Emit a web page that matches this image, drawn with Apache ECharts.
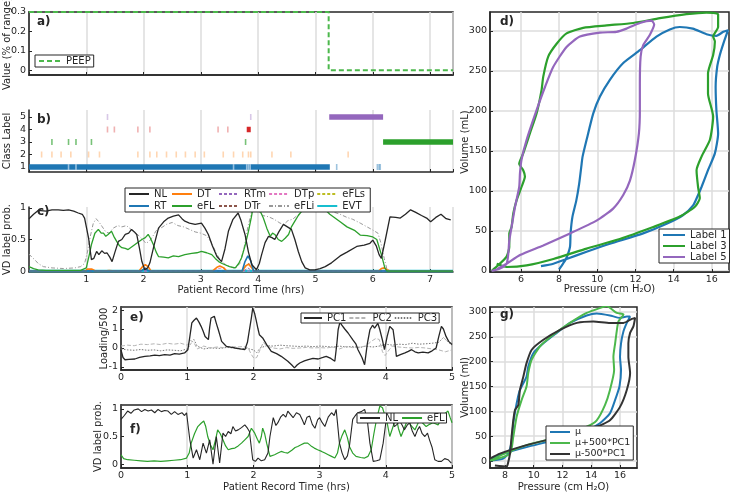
<!DOCTYPE html>
<html><head><meta charset="utf-8">
<script src="https://cdn.jsdelivr.net/npm/echarts@6/dist/echarts.min.js"></script>
<style>html,body{margin:0;padding:0;background:#fff}#c{width:730px;height:496px}</style>
</head><body><div id="c"></div>
<script>
// ---------------- DATA ----------------
// a) PEEP
const peepTime = [0, 5.23, 5.23, 7.4];
const peepValue = [0.3, 0.3, 0, 0];
const aYTicks = [0, 0.1, 0.2, 0.3];
// b) class labels
const bYTicks = [1, 2, 3, 4, 5];
const class1Bar = [0, 5.25];
const class5Bar = [5.24, 6.18];
const class3Bar = [6.18, 7.4];
const class4Block = [3.80, 3.87];
const class1Gaps = [0.69, 0.82, 3.57, 3.80, 3.83, 3.86];
const class1Ticks = [5.37, 6.08, 6.11, 6.13];
const class2Ticks = [0.22, 0.40, 0.56, 0.73, 1.04, 1.23, 1.90, 2.11, 2.23, 2.40, 2.57, 2.73, 2.90, 3.06, 3.39, 3.57, 3.73, 3.83, 3.87, 4.24, 4.57, 5.57];
const class3Ticks = [0.40, 0.69, 0.82, 1.09, 3.78];
const class4Ticks = [1.37, 1.49, 1.90, 2.11, 3.30, 3.47];
const class5Ticks = [1.37, 3.87];
// c) VD label probabilities [hrs, prob]
const cNL = [[0,0.83],[0.08,0.9],[0.16,0.96],[0.3,0.95],[0.4,0.97],[0.51,0.97],[0.6,0.96],[0.69,0.97],[0.78,0.95],[0.86,0.92],[0.93,0.9],[0.97,0.84],[1.04,0.52],[1.09,0.18],[1.13,0.2],[1.18,0.31],[1.22,0.26],[1.27,0.32],[1.32,0.28],[1.36,0.29],[1.41,0.22],[1.45,0.15],[1.5,0.3],[1.56,0.47],[1.62,0.5],[1.68,0.58],[1.74,0.6],[1.79,0.66],[1.84,0.62],[1.88,0.58],[1.93,0.35],[1.97,0.15],[2.02,0.02],[2.07,0.05],[2.11,0.13],[2.18,0.4],[2.26,0.68],[2.35,0.78],[2.43,0.84],[2.52,0.87],[2.61,0.89],[2.67,0.83],[2.72,0.79],[2.8,0.76],[2.9,0.74],[3.01,0.76],[3.07,0.68],[3.13,0.58],[3.2,0.4],[3.28,0.23],[3.36,0.15],[3.42,0.35],[3.48,0.63],[3.56,0.82],[3.65,0.92],[3.7,0.8],[3.77,0.58],[3.83,0.3],[3.89,0.1],[3.97,0.02],[4.02,0.12],[4.06,0.26],[4.12,0.45],[4.18,0.55],[4.24,0.53],[4.29,0.5],[4.36,0.62],[4.44,0.74],[4.51,0.7],[4.58,0.66],[4.64,0.5],[4.7,0.31],[4.76,0.15],[4.82,0.05],[4.9,0.02],[4.99,0.02],[5.08,0.04],[5.17,0.07],[5.28,0.13],[5.43,0.24],[5.55,0.3],[5.72,0.39],[5.85,0.41],[5.95,0.44],[6.0,0.49],[6.06,0.4],[6.11,0.26],[6.15,0.2],[6.22,0.5],[6.3,0.86],[6.4,0.85],[6.48,0.84],[6.57,0.9],[6.66,0.97],[6.75,0.93],[6.85,0.88],[6.94,0.84],[7.01,0.78],[7.1,0.85],[7.19,0.9],[7.28,0.83],[7.36,0.81]];
const cEFL = [[0,0.07],[0.08,0.04],[0.16,0.02],[0.3,0.01],[0.6,0.01],[0.9,0.01],[1.0,0.05],[1.05,0.25],[1.09,0.42],[1.15,0.6],[1.21,0.66],[1.26,0.6],[1.3,0.6],[1.34,0.55],[1.38,0.58],[1.44,0.63],[1.48,0.55],[1.53,0.47],[1.58,0.4],[1.62,0.37],[1.68,0.36],[1.73,0.34],[1.79,0.38],[1.85,0.42],[1.91,0.46],[1.97,0.5],[2.03,0.53],[2.08,0.58],[2.12,0.52],[2.17,0.42],[2.22,0.3],[2.26,0.23],[2.35,0.22],[2.43,0.21],[2.52,0.24],[2.61,0.23],[2.72,0.26],[2.84,0.28],[2.93,0.29],[3.01,0.31],[3.1,0.29],[3.19,0.26],[3.25,0.2],[3.31,0.15],[3.37,0.12],[3.42,0.1],[3.5,0.07],[3.6,0.05],[3.66,0.12],[3.71,0.21],[3.77,0.4],[3.83,0.63],[3.88,0.85],[3.92,1.05],[4.0,1.02],[4.05,0.92],[4.09,0.84],[4.15,0.68],[4.21,0.55],[4.25,0.6],[4.29,0.58],[4.35,0.5],[4.41,0.47],[4.47,0.52],[4.53,0.58],[4.58,0.7],[4.64,0.79],[4.7,0.88],[4.76,0.95],[4.85,0.98],[4.93,1.0],[5.05,0.98],[5.17,0.97],[5.25,0.9],[5.34,0.84],[5.43,0.78],[5.55,0.7],[5.69,0.64],[5.78,0.57],[5.9,0.56],[6.0,0.54],[6.07,0.5],[6.12,0.35],[6.15,0.26],[6.21,0.05],[6.25,0],[7.4,0]];
const cEFLi = [[0,0.27],[0.05,0.22],[0.1,0.18],[0.16,0.12],[0.25,0.07],[0.4,0.05],[0.6,0.04],[0.8,0.05],[0.9,0.07],[0.97,0.12],[1.02,0.3],[1.07,0.55],[1.12,0.75],[1.17,0.83],[1.22,0.78],[1.28,0.7],[1.34,0.62],[1.4,0.6],[1.47,0.68],[1.55,0.72],[1.62,0.7],[1.7,0.72],[1.78,0.66],[1.85,0.6],[1.92,0.56],[1.98,0.5],[2.04,0.44],[2.1,0.47],[2.16,0.55],[2.22,0.64],[2.3,0.68],[2.4,0.74],[2.5,0.77],[2.6,0.72],[2.7,0.7],[2.8,0.66],[2.9,0.62],[3.0,0.6],[3.1,0.56],[3.18,0.46],[3.25,0.32],[3.32,0.2],[3.4,0.12],[3.5,0.07],[3.6,0.04],[3.68,0.12],[3.75,0.35],[3.82,0.7],[3.88,0.92],[3.94,1.02],[4.0,0.95],[4.08,0.88],[4.18,0.86],[4.28,0.82],[4.38,0.76],[4.45,0.74],[4.52,0.8],[4.6,0.82],[4.68,0.88],[4.76,0.94],[4.85,0.97],[4.95,1.0],[5.1,0.98],[5.2,0.97],[5.3,0.94],[5.43,0.9],[5.55,0.85],[5.65,0.82],[5.78,0.76],[5.9,0.7],[6.0,0.65],[6.09,0.6],[6.14,0.45],[6.2,0.2],[6.25,0.02],[6.3,0],[7.4,0]];
const cDT = [[0,0],[0.98,0],[1.02,0.03],[1.1,0.03],[1.16,0],[1.3,0],[1.4,0.01],[1.5,0],[1.92,0],[1.98,0.07],[2.03,0.1],[2.08,0.07],[2.13,0],[3.2,0],[3.28,0.06],[3.33,0.08],[3.4,0.05],[3.45,0],[3.72,0],[3.78,0.08],[3.83,0.11],[3.88,0.06],[3.93,0],[6.1,0],[6.15,0.04],[6.2,0.05],[6.25,0.02],[6.3,0],[7.4,0]];
const cRT = [[0,0],[1.95,0],[2.02,0.04],[2.1,0],[3.72,0],[3.77,0.15],[3.82,0.24],[3.87,0.16],[3.92,0],[7.4,0]];
const cDTr = [[0,0],[1.95,0],[2.03,0.05],[2.1,0],[3.73,0],[3.8,0.1],[3.84,0.12],[3.9,0.04],[3.93,0],[7.4,0]];
const cDTp = [[0,0],[3.22,0],[3.3,0.04],[3.38,0.05],[3.45,0],[7.4,0]];
const cRTm = [[0,0],[3.75,0],[3.82,0.05],[3.9,0],[7.4,0]];
const cEFLs = [[0,0],[7.4,0]];
const cEVT = [[0,0],[7.4,0]];
const cYTicks = [0, 0.5, 1];
// d) P-V loops [pressure, volume]
const dLabel1 = [[8.0,2],[8.2,9],[8.36,15],[8.57,30],[8.6,47],[8.7,68],[8.9,88],[9.05,109],[9.18,134],[9.23,143],[9.44,164],[9.79,197],[10.14,218],[10.66,239],[11.36,260],[12.23,276],[13.1,293],[13.8,302],[14.32,305],[15.0,303],[15.72,296],[16.24,294],[16.6,299],[16.85,301],[16.6,284],[16.42,270],[16.28,255],[16.2,230],[16.24,201],[16.33,172],[16.16,147],[15.8,126],[15.46,105],[15.28,95],[15.02,82],[14.5,70],[13.63,59],[12.4,47],[10.66,34],[9.44,24],[8.39,15],[7.7,9],[7.05,6]];
const dLabel3 = [[4.46,0],[4.8,7],[5.25,18],[5.39,30],[5.39,47],[5.51,55],[5.6,72],[5.77,88],[6.03,105],[6.21,118],[6.12,126],[5.91,134],[6.12,147],[6.47,172],[6.82,197],[7.08,226],[7.17,243],[7.43,268],[7.87,284],[8.39,297],[9.26,304],[10.49,307],[11.88,310],[13.28,316],[14.67,321],[15.72,323],[16.33,321],[16.33,305],[16.07,293],[16.16,287],[16.07,270],[15.8,247],[15.8,222],[16.07,193],[15.9,164],[15.46,143],[15.2,126],[15.28,105],[15.37,91],[15.1,80],[14.32,68],[12.93,55],[11.18,40],[9.44,28],[7.7,15],[6.3,7],[5.25,5],[4.73,9]];
const dLabel5 = [[4.46,0],[4.9,3],[5.25,9],[5.34,22],[5.39,38],[5.51,55],[5.69,80],[5.91,105],[5.95,122],[6.03,139],[6.3,164],[6.82,201],[7.26,230],[7.69,255],[8.39,280],[9.09,293],[10.14,298],[11.0,299],[11.53,303],[12.23,310],[12.84,313],[12.98,308],[12.75,295],[12.4,282],[12.27,268],[12.23,234],[12.23,201],[12.18,172],[11.97,139],[11.71,113],[11.36,95],[10.83,78],[9.96,63],[8.57,47],[7.17,32],[5.95,20],[5.25,9],[4.73,2]];
const dXTicks = [6, 8, 10, 12, 14, 16];
const dYTicks = [0, 50, 100, 150, 200, 250, 300];
// e) loadings /500
const ePC1 = [[0,-0.1],[0.03,-0.5],[0.06,-0.62],[0.12,-0.6],[0.21,-0.58],[0.28,-0.5],[0.36,-0.44],[0.44,-0.42],[0.51,-0.38],[0.58,-0.4],[0.66,-0.35],[0.74,-0.38],[0.81,-0.3],[0.88,-0.32],[0.96,-0.26],[1.01,-0.09],[1.04,0.6],[1.07,1.32],[1.1,1.45],[1.14,1.58],[1.18,1.35],[1.21,1.14],[1.24,0.9],[1.27,0.61],[1.32,0.44],[1.34,1.1],[1.36,1.58],[1.41,1.67],[1.44,1.3],[1.47,0.96],[1.5,0.6],[1.52,0.35],[1.59,0.09],[1.65,0.05],[1.72,0],[1.8,-0.05],[1.87,-0.09],[1.91,0.3],[1.94,0.96],[1.97,1.6],[1.99,2.1],[2.02,1.8],[2.04,1.49],[2.07,1.0],[2.09,0.7],[2.14,0.53],[2.2,0.18],[2.27,-0.18],[2.35,-0.3],[2.42,-0.44],[2.52,-0.7],[2.58,-0.9],[2.62,-1.05],[2.66,-0.9],[2.7,-0.79],[2.77,-0.68],[2.83,-0.61],[2.9,-0.55],[2.98,-0.58],[3.05,-0.5],[3.1,-0.44],[3.17,-0.55],[3.23,-0.7],[3.26,0.2],[3.28,0.96],[3.31,1.4],[3.33,1.23],[3.38,1.0],[3.43,0.79],[3.5,0.44],[3.55,0.2],[3.58,-0.09],[3.64,-0.5],[3.68,-0.88],[3.72,0.2],[3.76,0.96],[3.8,1.2],[3.83,1.05],[3.88,1.3],[3.91,0.96],[3.95,0.4],[3.98,-0.09],[4.02,0.6],[4.06,1.14],[4.11,0.96],[4.14,0.2],[4.16,-0.44],[4.22,-0.35],[4.29,-0.26],[4.34,-0.18],[4.39,-0.09],[4.44,-0.2],[4.49,-0.26],[4.56,-0.22],[4.64,-0.26],[4.7,-0.15],[4.76,0],[4.8,0.6],[4.84,1.14],[4.87,1.0],[4.91,0.61],[4.95,0.35],[5.0,0.18]];
const ePC2 = [[0,0.1],[0.1,0.15],[0.2,0.12],[0.3,0.2],[0.4,0.18],[0.5,0.22],[0.6,0.18],[0.7,0.25],[0.8,0.2],[0.9,0.25],[1.0,0.15],[1.05,0.4],[1.1,0.3],[1.15,-0.05],[1.25,0.1],[1.35,0],[1.45,0.05],[1.55,0.02],[1.65,0.08],[1.75,0.05],[1.85,0.08],[1.92,0],[1.97,-0.35],[2.01,-0.55],[2.05,-0.5],[2.1,-0.1],[2.15,0.3],[2.2,0.1],[2.3,0],[2.4,-0.05],[2.5,0.02],[2.6,-0.02],[2.7,0],[2.8,0.03],[2.9,0],[3.0,0.02],[3.1,0],[3.2,0.05],[3.3,-0.05],[3.4,0.08],[3.5,0.02],[3.6,0.05],[3.7,0.1],[3.78,0.35],[3.85,0.5],[3.9,0.45],[3.95,-0.2],[3.99,-0.4],[4.05,-0.1],[4.1,0.1],[4.2,0.05],[4.3,0.02],[4.4,0],[4.5,0.03],[4.6,0],[4.7,-0.05],[4.8,-0.1],[4.9,-0.2],[5.0,-0.1]];
const ePC3 = [[0,-0.05],[0.1,-0.1],[0.2,-0.12],[0.3,-0.08],[0.4,-0.12],[0.5,-0.1],[0.6,-0.15],[0.7,-0.1],[0.8,-0.12],[0.9,-0.15],[1.0,-0.05],[1.05,0.2],[1.1,0.45],[1.15,0.1],[1.25,-0.05],[1.35,0],[1.5,-0.02],[1.6,0.03],[1.7,0],[1.8,-0.05],[1.9,-0.02],[2.0,-0.1],[2.05,-0.25],[2.1,0],[2.2,0.12],[2.3,0.1],[2.4,0.15],[2.5,0.12],[2.6,0.1],[2.7,0.08],[2.8,0.1],[2.9,0.07],[3.0,0.1],[3.1,0.08],[3.2,0.05],[3.3,0.1],[3.4,0.05],[3.5,0.08],[3.6,0.02],[3.7,0.1],[3.8,0.05],[3.9,0.1],[4.0,0.2],[4.1,0.15],[4.2,0.2],[4.3,0.18],[4.4,0.25],[4.5,0.2],[4.6,0.22],[4.7,0.25],[4.8,0.3],[4.87,0.55],[4.93,0.35],[5.0,0.15]];
const eYTicks = [-1, 0, 1, 2];
// f) VD label probabilities, 5 hrs
const fNL = [[0,0.81],[0.05,0.88],[0.1,0.96],[0.15,0.92],[0.2,0.98],[0.26,1.0],[0.31,0.95],[0.36,0.99],[0.41,0.96],[0.46,0.98],[0.51,0.93],[0.56,0.99],[0.61,0.95],[0.66,0.97],[0.71,0.96],[0.76,0.9],[0.81,0.95],[0.86,0.9],[0.92,0.93],[0.96,0.88],[0.99,0.93],[1.04,0.44],[1.09,0.11],[1.14,0.26],[1.19,0.08],[1.24,0.38],[1.29,0.2],[1.34,0.44],[1.39,0.0],[1.44,0.5],[1.49,0.02],[1.54,0.56],[1.58,0.5],[1.62,0.59],[1.66,0.55],[1.69,0.68],[1.73,0.6],[1.77,0.62],[1.82,0.66],[1.87,0.71],[1.91,0.65],[1.94,0.59],[1.99,0.08],[2.03,0.05],[2.07,0.11],[2.12,0.06],[2.17,0.08],[2.22,0.2],[2.25,0.5],[2.3,0.84],[2.34,0.7],[2.37,0.75],[2.41,0.85],[2.45,0.9],[2.49,0.85],[2.52,0.96],[2.56,0.9],[2.6,0.84],[2.65,0.93],[2.7,0.9],[2.74,0.8],[2.77,0.71],[2.81,0.85],[2.85,0.87],[2.89,0.72],[2.93,0.65],[2.97,0.8],[3.0,0.84],[3.04,0.75],[3.08,0.68],[3.13,0.85],[3.18,0.93],[3.22,0.88],[3.25,0.99],[3.3,0.38],[3.34,0.2],[3.38,0.08],[3.42,0.15],[3.45,0.32],[3.5,0.81],[3.54,0.88],[3.58,0.93],[3.63,0.95],[3.68,0.99],[3.72,0.8],[3.76,0.38],[3.81,0.05],[3.86,0.06],[3.91,0.08],[3.96,0.38],[4.01,0.84],[4.06,0.75],[4.1,0.8],[4.13,0.68],[4.17,0.72],[4.21,0.78],[4.25,0.7],[4.28,0.62],[4.32,0.7],[4.36,0.75],[4.4,0.6],[4.44,0.5],[4.48,0.62],[4.51,0.68],[4.55,0.55],[4.59,0.5],[4.63,0.56],[4.66,0.44],[4.7,0.3],[4.74,0.08],[4.79,0.05],[4.84,0.05],[4.89,0.1],[4.94,0.08],[4.99,0.02]];
const fEFL = [[0,0.17],[0.04,0.1],[0.1,0.08],[0.2,0.07],[0.3,0.06],[0.4,0.05],[0.5,0.06],[0.6,0.05],[0.7,0.06],[0.8,0.07],[0.9,0.08],[0.99,0.11],[1.03,0.2],[1.06,0.38],[1.11,0.55],[1.16,0.68],[1.21,0.74],[1.25,0.78],[1.28,0.68],[1.31,0.5],[1.35,0.35],[1.39,0.26],[1.43,0.45],[1.46,0.62],[1.5,0.55],[1.54,0.44],[1.58,0.33],[1.62,0.26],[1.67,0.28],[1.72,0.29],[1.77,0.33],[1.82,0.38],[1.87,0.44],[1.92,0.5],[1.97,0.65],[2.02,0.56],[2.06,0.45],[2.09,0.38],[2.12,0.5],[2.14,0.65],[2.17,0.55],[2.2,0.38],[2.25,0.14],[2.32,0.17],[2.37,0.2],[2.42,0.23],[2.47,0.21],[2.52,0.2],[2.58,0.25],[2.63,0.3],[2.67,0.32],[2.72,0.35],[2.77,0.38],[2.82,0.38],[2.87,0.33],[2.92,0.29],[2.97,0.26],[3.03,0.23],[3.08,0.2],[3.13,0.17],[3.18,0.14],[3.23,0.11],[3.27,0.2],[3.3,0.38],[3.34,0.52],[3.38,0.62],[3.42,0.48],[3.45,0.32],[3.5,0.2],[3.55,0.14],[3.62,0.12],[3.68,0.11],[3.73,0.14],[3.78,0.26],[3.82,0.55],[3.86,0.81],[3.91,1.05],[3.95,1.02],[3.98,0.99],[4.02,0.75],[4.06,0.5],[4.11,0.68],[4.16,0.84],[4.19,0.65],[4.23,0.5],[4.28,0.65],[4.33,0.81],[4.38,0.7],[4.44,0.62],[4.48,0.72],[4.51,0.81],[4.56,0.74],[4.61,0.68],[4.66,0.72],[4.71,0.75],[4.75,0.73],[4.79,0.71],[4.83,0.8],[4.86,0.87],[4.9,0.92],[4.94,0.96],[4.97,0.85],[5.0,0.75]];
const fYTicks = [0, 0.5, 1];
// g) mean and PC1 loops [pressure, volume]
const gMu = [[7.07,1],[7.88,5],[8.23,15],[8.46,38],[8.58,76],[8.81,116],[9.0,140],[9.16,150],[9.5,170],[9.62,190],[9.97,217],[10.67,237],[11.6,258],[12.52,278],[13.68,293],[14.38,297],[15.3,293],[16.0,288],[16.47,291],[16.7,291],[16.47,278],[16.24,261],[16.07,237],[16.0,210],[16.07,183],[15.96,150],[15.66,123],[15.3,96],[14.6,76],[13.68,62],[11.83,45],[9.5,28],[7.88,15],[7.07,5]];
const gPlus = [[7.07,1],[8.35,15],[8.58,49],[8.81,89],[9.16,123],[9.5,150],[9.62,177],[9.86,204],[10.44,231],[11.36,254],[12.52,278],[13.68,298],[14.6,308],[15.07,312],[15.77,298],[16.24,295],[15.89,281],[15.77,261],[15.66,237],[15.54,210],[15.59,183],[15.3,143],[14.96,113],[14.38,82],[13.68,69],[11.83,49],[9.5,32],[7.65,11],[6.96,1]];
const gMinus = [[7.3,-9],[8.12,-11],[8.23,-2],[8.35,15],[8.46,49],[8.58,82],[8.7,103],[8.93,113],[9.04,143],[9.28,170],[9.5,197],[9.86,224],[10.67,244],[11.83,264],[13.0,278],[14.15,281],[15.3,278],[16.24,278],[16.82,286],[17.05,288],[16.93,271],[16.7,258],[16.58,237],[16.58,210],[16.7,177],[16.47,143],[16.0,109],[15.3,82],[14.38,69],[11.83,49],[9.5,32],[7.65,15],[6.96,5]];
const gXTicks = [8, 10, 12, 14, 16];
const gYTicks = [0, 50, 100, 150, 200, 250, 300];

// ---------------- STYLE ----------------
const F = 'DejaVu Sans';
const INK = '#262626';
const GRIDC = '#dddddd';
const C = {blue:'#1f77b4', orange:'#ff7f0e', green:'#2ca02c', red:'#d62728', purple:'#9467bd', brown:'#8c564b', pink:'#e377c2', gray:'#999999', olive:'#bcbd22', cyan:'#17becf', lgreen:'#4cb84c'};

function merge(a, b) {
  const r = Object.assign({}, a);
  for (const k in b) {
    if (b[k] && typeof b[k] === 'object' && !Array.isArray(b[k]) && a[k] && typeof a[k] === 'object' && !Array.isArray(a[k])) r[k] = merge(a[k], b[k]);
    else r[k] = b[k];
  }
  return r;
}
const baseAxis = {
  type: 'value', nameLocation: 'middle', nameMoveOverlap: false,
  nameTextStyle: {color: INK, fontSize: 10, fontFamily: F},
  axisLine: {show: true, onZero: false, lineStyle: {color: INK, width: 1.5}},
  axisTick: {show: true, inside: true, length: 3, lineStyle: {color: INK, width: 1}},
  axisLabel: {show: true, color: INK, fontSize: 9.5, fontFamily: F, margin: 3},
  splitLine: {show: false, lineStyle: {color: GRIDC, width: 1.5}}
};
const ax = o => merge(baseAxis, o);
const custom = ticks => ({axisLabel: {customValues: ticks}, axisTick: {customValues: ticks}});

const gb = {outerBoundsMode: 'none', containLabel: false};
const grids = [
  Object.assign({left: 29, top: 12, width: 424, height: 63, show: true, borderColor: INK, borderWidth: 1.5}, gb),
  Object.assign({left: 29, top: 110, width: 424, height: 62}, gb),
  Object.assign({left: 29, top: 207, width: 424, height: 65}, gb),
  Object.assign({left: 490, top: 12, width: 239, height: 260, show: true, borderColor: INK, borderWidth: 1.5}, gb),
  Object.assign({left: 121, top: 307, width: 331, height: 63, show: true, borderColor: INK, borderWidth: 1.5}, gb),
  Object.assign({left: 121, top: 405, width: 331, height: 63, show: true, borderColor: INK, borderWidth: 1.5}, gb),
  Object.assign({left: 490, top: 307, width: 147, height: 161, show: true, borderColor: INK, borderWidth: 1.5}, gb)
];

const xAxis = [
  ax({gridIndex: 0, min: 0, max: 7.4, interval: 1, axisLabel: {show: false}, splitLine: {show: true}}),
  ax({gridIndex: 1, min: 0, max: 7.4, interval: 1, axisLabel: {show: false}, splitLine: {show: true}}),
  ax({gridIndex: 2, min: 0, max: 7.4, interval: 1, axisLabel: {showMinLabel: false, showMaxLabel: false}, splitLine: {show: true}, name: 'Patient Record Time (hrs)', nameGap: 13}),
  ax(merge({gridIndex: 3, min: 4.38, max: 16.9, splitLine: {show: true}, name: 'Pressure (cm H₂O)', nameGap: 12}, custom(dXTicks))),
  ax({gridIndex: 4, min: 0, max: 5, interval: 1, splitLine: {show: true}}),
  ax({gridIndex: 5, min: 0, max: 5, interval: 1, splitLine: {show: true}, name: 'Patient Record Time (hrs)', nameGap: 14}),
  ax(merge({gridIndex: 6, min: 6.96, max: 17.18, splitLine: {show: true}, name: 'Pressure (cm H₂O)', nameGap: 14}, custom(gXTicks)))
];
const yAxis = [
  ax(merge({gridIndex: 0, min: -0.025, max: 0.3, name: 'Value (% of range)', nameGap: 17}, custom(aYTicks))),
  ax(merge({gridIndex: 1, min: 0.6, max: 5.56, name: 'Class Label', nameGap: 17}, custom(bYTicks))),
  ax(merge({gridIndex: 2, min: -0.015, max: 1.015, name: 'VD label prob.', nameGap: 17}, custom(cYTicks))),
  ax(merge({gridIndex: 3, min: -1.25, max: 323.75, splitLine: {show: true}, name: 'Volume (mL)', nameGap: 20}, custom(dYTicks))),
  ax(merge({gridIndex: 4, min: -1.16, max: 2.16, name: 'Loading/500', nameGap: 12}, custom(eYTicks))),
  ax(merge({gridIndex: 5, min: -0.07, max: 1.07, name: 'VD label prob.', nameGap: 18}, custom(fYTicks))),
  ax(merge({gridIndex: 6, min: -14, max: 310, splitLine: {show: true}, name: 'Volume (ml)', nameGap: 20}, custom(gYTicks)))
];

function line(name, idx, data, color, width, type, extra) {
  return Object.assign({
    name, type: 'line', xAxisIndex: idx, yAxisIndex: idx, data,
    symbol: 'none', animation: false, silent: true,
    lineStyle: {color, width, type: type || 'solid', cap: 'butt'}, itemStyle: {color}
  }, extra || {});
}
function ticks(name, xs, cls, color) {
  return {name, type: 'scatter', xAxisIndex: 1, yAxisIndex: 1, data: xs.map(t => [t, cls]),
    symbol: 'rect', symbolSize: [1.6, 6], itemStyle: {color}, animation: false, silent: true, z: 3};
}
function bar(name, range, cls, color) {
  return line(name, 1, [[range[0], cls], [range[1], cls]], color, 5.5);
}

const series = [
  line('PEEP', 0, peepTime.map((t, i) => [t, peepValue[i]]), C.lgreen, 2, [5, 3]),
  bar('c1bar', class1Bar, 1, C.blue),
  bar('c5bar', class5Bar, 5, C.purple),
  bar('c3bar', class3Bar, 3, C.green),
  bar('c4block', class4Block, 4, C.red),
  ticks('c1gap', class1Gaps, 1, 'rgba(180,210,235,1)'),
  ticks('c1t', class1Ticks, 1, 'rgba(31,119,180,0.55)'),
  ticks('c2t', class2Ticks, 2, 'rgba(255,127,14,0.4)'),
  ticks('c3t', class3Ticks, 3, 'rgba(44,160,44,0.8)'),
  ticks('c4t', class4Ticks, 4, 'rgba(214,39,40,0.45)'),
  ticks('c5t', class5Ticks, 5, 'rgba(148,103,189,0.45)'),
  line('eFLs', 2, cEFLs, C.olive, 1, [3, 2]),
  line('EVT', 2, cEVT, C.cyan, 2.5),
  line('eFLi', 2, cEFLi, C.gray, 1, [4, 2, 1, 2]),
  line('DTp', 2, cDTp, C.pink, 1, [3, 2]),
  line('DTr', 2, cDTr, C.brown, 1, [3, 2]),
  line('RTm', 2, cRTm, C.purple, 1, [3, 2]),
  line('DT', 2, cDT, C.orange, 1.6),
  line('RT', 2, cRT, C.blue, 1.6),
  line('eFL', 2, cEFL, C.green, 1.3),
  line('NL', 2, cNL, INK, 1.3),
  line('Label 1', 3, dLabel1, C.blue, 2.2, null, {smooth: 0.2}),
  line('Label 3', 3, dLabel3, C.green, 2.2, null, {smooth: 0.2}),
  line('Label 5', 3, dLabel5, C.purple, 2.2, null, {smooth: 0.2}),
  line('PC3', 4, ePC3, '#777777', 1, [1.5, 1.5]),
  line('PC2', 4, ePC2, '#b5b5b5', 1, [4, 2]),
  line('PC1', 4, ePC1, INK, 1.3),
  line('eFL', 5, fEFL, C.green, 1.2),
  line('NL', 5, fNL, INK, 1.1),
  line('μ', 6, gMu, C.blue, 2, null, {smooth: 0.2}),
  line('μ+500*PC1', 6, gPlus, C.lgreen, 2, null, {smooth: 0.2}),
  line('μ-500*PC1', 6, gMinus, '#333333', 2, null, {smooth: 0.2})
];

const legTxt = {color: INK, fontSize: 10, fontFamily: F};
const legBase = {selectedMode: false, borderColor: INK, borderWidth: 1, backgroundColor: '#fff', borderRadius: 0, textStyle: legTxt, z: 10, itemStyle: {opacity: 0, borderWidth: 0}};
const cw = [15, 19, 22, 20, 25];
const cNames = ['NL', 'DT', 'RTm', 'DTp', 'eFLs', 'RT', 'eFL', 'DTr', 'eFLi', 'EVT'];
const legend = [
  Object.assign({}, legBase, {data: ['PEEP'], left: 35, top: 55, itemWidth: 22, itemHeight: 10, padding: [1, 3]}),
  Object.assign({}, legBase, {data: cNames.map((n, i) => ({name: n, textStyle: {width: cw[i % 5]}})), left: 125, top: 188, width: 245, orient: 'horizontal', itemWidth: 20, itemHeight: 8, itemGap: 2, padding: [1, 3], textStyle: Object.assign({}, legTxt, {lineHeight: 8})}),
  Object.assign({}, legBase, {data: ['Label 1', 'Label 3', 'Label 5'], left: 659, top: 229, orient: 'vertical', itemWidth: 22, itemHeight: 10, itemGap: 1, padding: [1, 3], textStyle: Object.assign({}, legTxt, {lineHeight: 10})}),
  Object.assign({}, legBase, {data: ['PC1', 'PC2', 'PC3'], left: 301, top: 313, itemWidth: 18, itemHeight: 10, itemGap: 2, padding: [0, 2]}),
  Object.assign({}, legBase, {data: ['NL', 'eFL'], left: 357, top: 413, itemWidth: 20, itemHeight: 10, itemGap: 3, padding: [0, 2]}),
  Object.assign({}, legBase, {data: ['μ', 'μ+500*PC1', 'μ-500*PC1'], left: 546, top: 426, orient: 'vertical', itemWidth: 20, itemHeight: 10, itemGap: 1, padding: [1, 3], textStyle: Object.assign({}, legTxt, {fontSize: 9.5, lineHeight: 10})})
];

const lab = (t, x, y) => ({type: 'text', left: x, top: y, z: 100, style: {text: t, font: 'bold 12px "DejaVu Sans"', fill: INK}});
const graphic = [lab('a)', 37, 16), lab('b)', 37, 114), lab('c)', 37, 206), lab('d)', 500, 16), lab('e)', 130, 312), lab('f)', 130, 424), lab('g)', 500, 309)];

const chart = echarts.init(document.getElementById('c'), null, {renderer: 'canvas'});
chart.setOption({animation: false, backgroundColor: '#fff', grid: grids, xAxis, yAxis, series, legend, graphic, textStyle: {fontFamily: F}});
</script></body></html>
